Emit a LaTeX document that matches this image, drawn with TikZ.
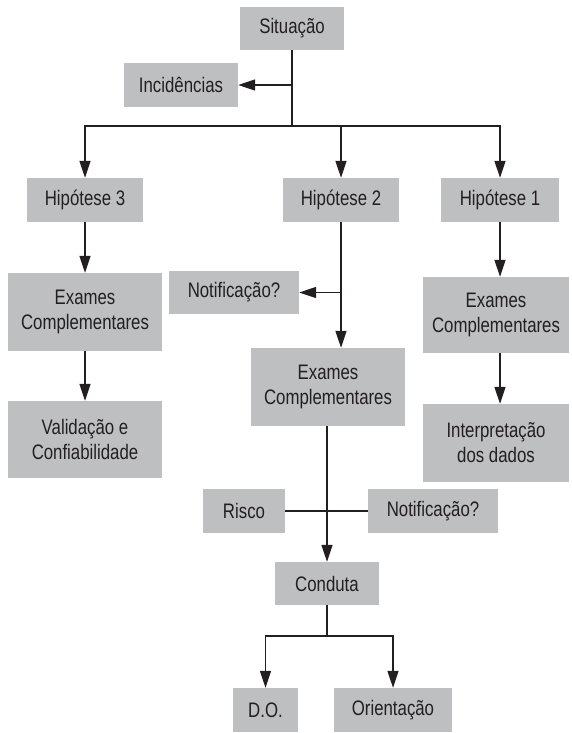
\documentclass[tikz,border=0pt]{standalone}
\usepackage{fontspec}
\setmainfont{Liberation Sans}[FakeStretch=0.8]
\definecolor{caixacinza}{RGB}{190, 191, 193}
\definecolor{linhaescura}{RGB}{35, 31, 32}
\usepackage{tikz}
\usetikzlibrary{arrows.meta, positioning, calc}

\begin{document}
\begin{tikzpicture}[x=1pt, y=-1pt,
    caixa/.style={fill=caixacinza, text=linhaescura, align=center, inner sep=0pt,
                  font=\fontsize{21}{25}\selectfont, minimum height=44pt},
    liga/.style={draw=linhaescura, line width=1.2pt},
    seta/.style={liga, -{Triangle[length=17pt, width=11pt]}}]
    \useasboundingbox (0,0) rectangle (572,733);

    % Situacao e incidencias
    \node[caixa, minimum width=104pt, minimum height=43pt] (sit) at (292, 28.5) {Situação};
    \node[caixa, minimum width=114pt] (inc) at (181, 85) {Incidências};
    \coordinate (barra) at (292, 126);
    \draw[liga] (sit) -- (barra);
    \draw[seta] (sit.south |- inc.east) -- (inc.east);

    % Hipoteses
    \node[caixa, minimum width=116pt] (hip3) at (85, 200) {Hipótese 3};
    \node[caixa, minimum width=116pt] (hip2) at (341, 200) {Hipótese 2};
    \node[caixa, minimum width=118pt] (hip1) at (500, 200) {Hipótese 1};
    \draw[seta] (barra) -| (hip3.north);
    \draw[seta] (barra) -| (hip1.north);
    \draw[seta] (hip2.north |- barra) -- (hip2.north);

    % Hipotese 3
    \node[caixa, minimum width=154pt, minimum height=78pt] (ex3) at (85, 312) {Exames\\Complementares};
    \node[caixa, minimum width=154pt, minimum height=77pt] (val) at (85, 439.5) {Validação e\\Confiabilidade};
    \draw[seta] (hip3) -- (ex3);
    \draw[seta] (ex3) -- (val);

    % Hipotese 2
    \node[caixa, minimum width=130pt, minimum height=43pt] (not1) at (234, 292.5) {Notificação?};
    \node[caixa, minimum width=154pt, minimum height=78pt] (ex2) at (328, 387) {Exames\\Complementares};
    \draw[seta] (hip2.south) -- (hip2.south |- ex2.north);
    \draw[seta] (hip2.south |- not1.east) -- (not1.east);

    % Hipotese 1
    \node[caixa, minimum width=146pt, minimum height=76pt] (ex1) at (496, 315) {Exames\\Complementares};
    \node[caixa, minimum width=146pt, minimum height=78pt] (int) at (496, 443) {Interpretação\\dos dados};
    \draw[seta] (hip1.south) -- (hip1.south |- ex1.north);
    \draw[seta] (hip1.south |- ex1.south) -- (hip1.south |- int.north);

    % Risco, notificacao e conduta
    \node[caixa, minimum width=82pt] (risco) at (244, 511) {Risco};
    \node[caixa, minimum width=130pt] (not2) at (433, 511) {Notificação?};
    \node[caixa, minimum width=104pt, minimum height=43pt] (cond) at (327, 583.5) {Conduta};
    \draw[liga] (risco) -- (not2);
    \draw[seta] (ex2.south -| cond.north) -- (cond.north);

    % Desfecho
    \node[caixa, minimum width=65pt] (do) at (265.5, 710) {D.O.};
    \node[caixa, minimum width=118pt] (ori) at (393, 710) {Orientação};
    \coordinate (bif) at (327, 636);
    \draw[liga] (cond) -- (bif);
    \draw[seta] (bif) -| (do.north);
    \draw[seta] (bif) -| (ori.north);
\end{tikzpicture}
\end{document}
